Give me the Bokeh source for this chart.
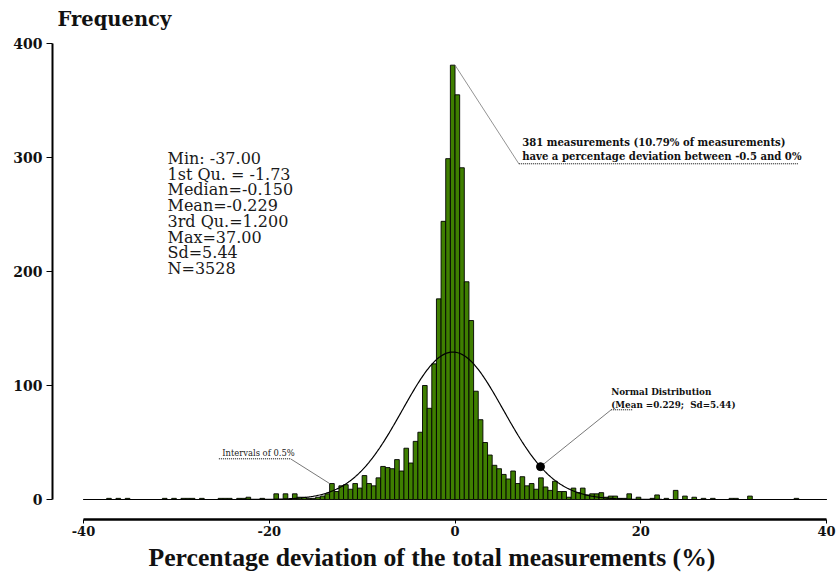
import numpy as np
from bokeh.plotting import figure
from bokeh.models import Range1d, FixedTicker, Label, Title
from bokeh.embed import file_html
from bokeh.resources import INLINE
from bokeh.core.properties import value

# ---------------- data ----------------
bin_width = 0.5
bin_start = -40.0
# counts per 0.5% bin, bins from -40 to 40 (left edges -40, -39.5, ... 39.5)
counts = [
    0, 0, 0, 0, 0, 1, 0, 1, 0, 1,            # -40 .. -35.5
    0, 0, 0, 0, 0, 0, 0, 1, 0, 1,            # -35 .. -30.5
    0, 1, 1, 1, 0, 1, 0, 0, 0, 1,            # -30 .. -25.5
    1, 1, 0, 1, 1, 2, 0, 0, 1, 0,            # -25 .. -20.5
    0, 5, 0, 5, 0, 5, 2, 2, 1, 1,            # -20 .. -15.5
    2, 3, 5, 14, 7, 12, 13, 9, 14, 10,       # -15 .. -10.5
    21, 14, 12, 19, 29, 28, 27, 35, 25, 45,  # -10 .. -5.5
    32, 51, 59, 100, 80, 119, 176, 244, 299, 381,  # -5 .. -0.5
    355, 291, 191, 157, 95, 70, 50, 39, 30, 27,    # 0 .. 4.5
    22, 18, 25, 14, 20, 12, 14, 9, 19, 11,   # 5 .. 9.5
    8, 16, 7, 7, 2, 10, 6, 10, 4, 5,         # 10 .. 14.5
    5, 6, 2, 3, 3, 1, 1, 5, 0, 2,            # 15 .. 19.5
    0, 0, 1, 4, 0, 1, 0, 8, 0, 3,            # 20 .. 24.5
    0, 2, 0, 1, 0, 1, 0, 0, 0, 1,            # 25 .. 29.5
    1, 0, 0, 3, 0, 0, 0, 0, 0, 0,            # 30 .. 34.5
    0, 0, 0, 1, 0, 0, 0, 0, 0, 0,            # 35 .. 39.5
]
bin_left = [bin_start + i * bin_width for i in range(len(counts))]
bin_center = [b + bin_width / 2 for b in bin_left]

n_total = 3528
mean = -0.229
sd = 5.44

x_ticks = [-40, -20, 0, 20, 40]
x_tick_labels = ["-40", "-20", "0", "20", "40"]
y_ticks = [0, 100, 200, 300, 400]
y_tick_labels = ["0", "100", "200", "300", "400"]

stats_lines = ["Min: -37.00", "1st Qu. = -1.73", "Median=-0.150", "Mean=-0.229",
               "3rd Qu.=1.200", "Max=37.00", "Sd=5.44", "N=3528"]

peak_bin = -0.5          # bin of the annotated peak
interval_bin = -13.5     # bin pointed at by "Intervals of 0.5%"
dot_x = 9.2              # point on the normal curve that is annotated

# ---------------- figure ----------------
SERIF = "DejaVu Serif"
p = figure(width=838, height=579, output_backend="svg", toolbar_location=None,
           x_range=Range1d(-43.33, 41.28), y_range=Range1d(-17.54, 406.14),
           min_border_left=52, min_border_right=0, min_border_top=36,
           min_border_bottom=60)
p.outline_line_color = None
p.grid.visible = False
p.background_fill_color = "white"
p.border_fill_color = "white"

p.title.text = "Frequency"
p.title.text_font = SERIF
p.title.text_font_style = "bold"
p.title.text_font_size = "19.5px"
p.title.text_color = "#111111"
p.title.align = "left"
p.title.offset = 5
p.title.standoff = 11

# histogram
p.vbar(x=bin_center, width=bin_width, top=counts, bottom=0,
       fill_color="#3f7f00", line_color="black", line_width=0.9)

# normal curve
xs = np.linspace(-40, 40, 801)
def normal_count(x):
    return n_total * bin_width / (sd * np.sqrt(2 * np.pi)) * np.exp(-0.5 * ((x - mean) / sd) ** 2)
p.line(xs, normal_count(xs), line_color="black", line_width=1.2)

# ---------------- axes ----------------
xa = p.xaxis[0]
xa.ticker = FixedTicker(ticks=x_ticks)
xa.major_label_overrides = dict(zip(x_ticks, x_tick_labels))
xa.bounds = (x_ticks[0], x_ticks[-1])
xa.axis_line_width = 2.5
xa.major_tick_out = 4
xa.major_tick_in = 0
xa.major_tick_line_width = 1
xa.minor_tick_line_color = None
xa.major_label_standoff = 2
xa.major_label_text_font = SERIF
xa.major_label_text_font_style = "bold"
xa.major_label_text_font_size = "13px"
xa.major_label_text_color = "#111111"

p.add_layout(Title(text="Percentage deviation of the total measurements (%)",
                   text_font="Liberation Serif", text_font_style="bold",
                   text_font_size="25.7px", text_color="#111111",
                   align="left", offset=96, standoff=4), "below")

ya = p.yaxis[0]
ya.ticker = FixedTicker(ticks=y_ticks)
ya.major_label_overrides = dict(zip(y_ticks, y_tick_labels))
ya.bounds = (y_ticks[0], y_ticks[-1])
ya.axis_line_width = 2
ya.major_tick_out = 6
ya.major_tick_in = 0
ya.major_tick_line_width = 1
ya.minor_tick_line_color = None
ya.major_label_standoff = 4
ya.major_label_text_font = SERIF
ya.major_label_text_font_style = "bold"
ya.major_label_text_font_size = "14px"
ya.major_label_text_color = "#111111"

# ---------------- statistics block ----------------
stats_y = [299.1 - i * 13.78 for i in range(len(stats_lines))]
p.text(x=[-30.95] * len(stats_lines), y=stats_y, text=stats_lines,
       text_font=value(SERIF), text_font_size="16px", text_baseline="middle",
       text_align="left", text_color="#1a1a1a")

# ---------------- annotation: peak ----------------
peak_idx = bin_left.index(peak_bin)
peak_x = peak_bin + bin_width
p.line([peak_x, 6.87], [counts[peak_idx], 294.5], line_color="#777777", line_width=0.8)
p.line([6.87, 36.98], [294.5, 294.5], line_color="black", line_width=1, line_dash="1 1")
p.add_layout(Label(x=7.23, y=313.4, text="381 measurements (10.79% of measurements)",
                   text_font=SERIF, text_font_style="bold", text_font_size="10.1px",
                   text_baseline="middle", text_color="#111111"))
p.add_layout(Label(x=7.23, y=301.3, text="have a percentage deviation between -0.5 and 0%",
                   text_font=SERIF, text_font_style="bold", text_font_size="10.1px",
                   text_baseline="middle", text_color="#111111"))

# ---------------- annotation: normal distribution ----------------
dot_y = float(normal_count(dot_x))
p.line([dot_x, 16.81], [dot_y, 78.7], line_color="#555555", line_width=0.8)
p.line([16.81, 19.07], [78.7, 78.7], line_color="black", line_width=1, line_dash="1 1")
p.scatter([dot_x], [dot_y], size=8, color="black")
p.add_layout(Label(x=16.81, y=94.1, text="Normal Distribution",
                   text_font=SERIF, text_font_style="bold", text_font_size="8.8px",
                   text_baseline="middle", text_color="#111111"))
p.add_layout(Label(x=16.81, y=83.1, text="(Mean =0.229;\u00a0 Sd=5.44)",
                   text_font=SERIF, text_font_style="bold", text_font_size="8.8px",
                   text_baseline="middle", text_color="#111111"))

# ---------------- annotation: intervals ----------------
int_idx = bin_left.index(interval_bin)
p.line([-17.71, interval_bin], [35.7, counts[int_idx]], line_color="#555555", line_width=0.8)
p.line([-25.42, -17.71], [35.7, 35.7], line_color="black", line_width=1, line_dash="1 1")
p.add_layout(Label(x=-25.06, y=40.6, text="Intervals of 0.5%",
                   text_font=SERIF, text_font_size="8.4px",
                   text_baseline="middle", text_color="#222222"))

open("out.html", "w").write(file_html(p, INLINE))
